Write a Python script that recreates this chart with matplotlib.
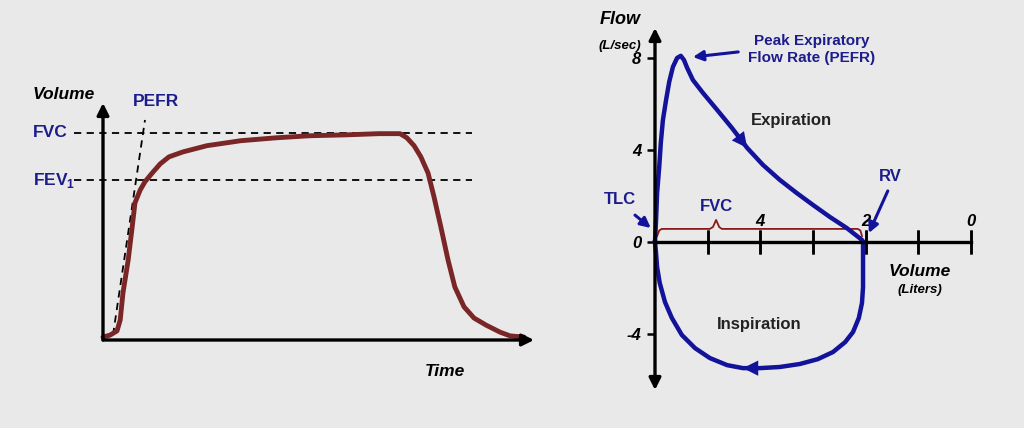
import matplotlib.pyplot as plt

plt.rcParams['font.family'] = ['Liberation Sans', 'DejaVu Sans']
plt.rcParams['mathtext.fontset'] = 'custom'
plt.rcParams['mathtext.rm'] = 'Liberation Sans'
plt.rcParams['mathtext.bf'] = 'Liberation Sans:bold'

BG = "#e9e9e9"
RED = "#7a2626"
BLUE = "#12129a"
TXT = "#1c1c8c"

# left panel: volume-time curve (time in s, volume in L)
spiro_time = [0, 0.18, 0.35, 0.43, 0.5, 0.63, 0.73, 0.8, 0.93, 1.05, 1.23, 1.43, 1.65, 2.0,
              2.6, 3.45, 4.33, 5.18, 6.05, 6.9, 7.43, 7.6, 7.78, 7.95, 8.13, 8.28, 8.45,
              8.63, 8.8, 9.03, 9.28, 9.58, 9.93, 10.18, 10.53]
spiro_vol = [0.07, 0.12, 0.22, 0.48, 1.14, 1.93, 2.73, 3.31, 3.62, 3.82, 4.03, 4.25, 4.42,
             4.54, 4.69, 4.81, 4.88, 4.93, 4.95, 4.98, 4.98, 4.88, 4.69, 4.42, 4.03, 3.45,
             2.73, 1.93, 1.28, 0.8, 0.53, 0.36, 0.19, 0.1, 0.07]
FVC = 5.0
FEV1 = 3.86
pefr_line_t = [0.25, 1.05]
pefr_line_v = [0.12, 5.31]

# right panel: flow-volume loop (volume in L, flow in L/s)
exp_vol = [6.0, 5.98, 5.96, 5.92, 5.89, 5.85, 5.79, 5.73, 5.66, 5.58, 5.51, 5.45, 5.39,
           5.28, 5.09, 4.82, 4.54, 4.25, 3.95, 3.63, 3.31, 3.0, 2.68, 2.36, 2.07, 2.05]
exp_flow = [0.0, 0.96, 2.13, 3.26, 4.3, 5.3, 6.17, 6.96, 7.61, 8.0, 8.09, 7.91, 7.57,
            7.04, 6.48, 5.74, 4.96, 4.09, 3.35, 2.7, 2.13, 1.61, 1.09, 0.61, 0.09, 0.0]
insp_vol = [2.05, 2.05, 2.05, 2.05, 2.07, 2.13, 2.24, 2.39, 2.62, 2.91, 3.25, 3.63, 4.01,
            4.33, 4.63, 4.96, 5.24, 5.49, 5.68, 5.81, 5.91, 5.96, 5.98, 6.0]
insp_flow = [0.0, -0.22, -1.09, -1.96, -2.65, -3.3, -3.91, -4.35, -4.78, -5.09, -5.3,
             -5.43, -5.48, -5.48, -5.35, -5.04, -4.61, -4.04, -3.3, -2.61, -1.78, -1.09,
             -0.48, 0.0]
vol_ticks = [5, 4, 3, 2, 1, 0]
vol_labels = ["", "4", "", "2", "", "0"]
flow_ticks = [8, 4, 0, -4]
flow_labels = ["8", "4", "0", "-4"]
brace_vol = [5.96, 5.92, 5.87, 4.96, 4.9, 4.84, 4.78, 4.73, 2.15, 2.1, 2.07]
brace_flow = [0.26, 0.5, 0.57, 0.57, 0.65, 0.96, 0.65, 0.57, 0.57, 0.5, 0.26]

W, H = 1024, 428
fig = plt.figure(figsize=(W / 100, H / 100), dpi=100, facecolor=BG)

# ---------------- left: spirogram ----------------
ax1 = fig.add_axes([103 / W, (H - 340) / H, (534 - 103) / W, (340 - 103) / H])
ax1.set_xlim(0, 10.78)
ax1.set_ylim(0, 5.72)
ax1.axis("off")

arrow_kw = dict(arrowstyle="-|>,head_length=0.7,head_width=0.35", color="black", lw=2.4,
                shrinkA=0, shrinkB=0)
ax1.annotate("", xy=(0, 1), xytext=(0, 0), xycoords="axes fraction", arrowprops=arrow_kw)
ax1.annotate("", xy=(1, 0), xytext=(0, 0), xycoords="axes fraction", arrowprops=arrow_kw)

for level in (FVC, FEV1):
    ax1.plot([-0.73, 9.23], [level, level], color="black", lw=1.3, ls=(0, (4, 3)), clip_on=False)
ax1.plot(pefr_line_t, pefr_line_v, color="black", lw=1.3, ls=(0, (4, 3)), clip_on=False)
ax1.plot(spiro_time, spiro_vol, color=RED, lw=3.5, solid_capstyle="round",
         solid_joinstyle="round", clip_on=False)

ax1.text(-1.75, FVC, "FVC", color=TXT, fontsize=12.5, fontweight="bold", va="center", ha="left")
ax1.text(-1.75, FEV1, "FEV$_\\mathbf{1}$", color=TXT, fontsize=12.5, fontweight="bold",
         va="center", ha="left")
ax1.text(-1.75, 5.93, "Volume", color="black", fontsize=12.5, fontweight="bold", style="italic",
         va="center", ha="left")
ax1.text(0.75, 5.75, "PEFR", color=TXT, fontsize=12.5, fontweight="bold", va="center", ha="left")
ax1.text(8.05, -0.77, "Time", color="black", fontsize=12.5, fontweight="bold", style="italic",
         va="center", ha="left")

# ---------------- right: flow-volume loop ----------------
ax2 = fig.add_axes([655 / W, (H - 390) / H, (971 - 655) / W, (390 - 28) / H])
ax2.set_xlim(6, 0)
ax2.set_ylim(-6.43, 9.3)
ax2.set_facecolor("none")
for s in ("left", "right"):
    ax2.spines[s].set_visible(False)
ax2.spines["bottom"].set_position(("data", 0))
ax2.spines["top"].set_position(("data", 0))
ax2.spines["bottom"].set_linewidth(2.4)
ax2.spines["top"].set_visible(False)
ax2.set_xticks(vol_ticks)
ax2.set_xticklabels(vol_labels)
ax2.tick_params(axis="x", direction="inout", length=17, width=1.8, top=True, bottom=True,
                labeltop=True, labelbottom=False, pad=1)
ax2.set_yticks(flow_ticks)
ax2.set_yticklabels(flow_labels)
ax2.tick_params(axis="y", direction="out", length=6, width=1.8, pad=4)
for lab in ax2.get_xticklabels() + ax2.get_yticklabels():
    lab.set_fontweight("bold")
    lab.set_fontstyle("italic")
    lab.set_fontsize(12)

ax2.annotate("", xy=(0, 1), xytext=(0, 0), xycoords="axes fraction",
             arrowprops=dict(arrowstyle="<|-|>,head_length=0.7,head_width=0.35", color="black",
                             lw=2.4, shrinkA=0, shrinkB=0))

ax2.plot(brace_vol, brace_flow, color="#8b1a1a", lw=1.3, clip_on=False)
ax2.plot(exp_vol, exp_flow, color=BLUE, lw=3.2, solid_joinstyle="round", clip_on=False)
ax2.plot(insp_vol, insp_flow, color=BLUE, lw=3.2, solid_joinstyle="round", clip_on=False)

head = dict(arrowstyle="-|>,head_length=1.1,head_width=0.55", color=BLUE, lw=0,
            shrinkA=0, shrinkB=0)
ax2.annotate("", xy=(exp_vol[17], exp_flow[17]), xytext=(exp_vol[16], exp_flow[16]),
             arrowprops=head)
ax2.annotate("", xy=(insp_vol[13], insp_flow[13]), xytext=(insp_vol[12], insp_flow[12]),
             arrowprops=head)

call = dict(arrowstyle="-|>,head_length=0.6,head_width=0.3", color=BLUE, lw=2.2,
            shrinkA=0, shrinkB=0)
ax2.annotate("", xy=(5.28, 8.04), xytext=(4.42, 8.26), arrowprops=call, annotation_clip=False)
ax2.annotate("", xy=(6.08, 0.61), xytext=(6.38, 1.17), arrowprops=call, annotation_clip=False)
ax2.annotate("", xy=(1.94, 0.39), xytext=(1.58, 2.22), arrowprops=call, annotation_clip=False)

ax2.text(3.02, 8.35, "Peak Expiratory\nFlow Rate (PEFR)", color=TXT, fontsize=11,
         fontweight="bold", ha="center", va="center", linespacing=1.25)
ax2.text(6.66, 1.83, "TLC", color=TXT, fontsize=12, fontweight="bold", ha="center", va="center")
ax2.text(1.54, 2.83, "RV", color=TXT, fontsize=12, fontweight="bold", ha="center", va="center")
ax2.text(4.84, 1.55, "FVC", color=TXT, fontsize=12, fontweight="bold", ha="center", va="center")
ax2.text(3.4, 5.3, "Expiration", color="#222222", fontsize=12, fontweight="bold",
         ha="center", va="center")
ax2.text(4.03, -3.6, "Inspiration", color="#222222", fontsize=12, fontweight="bold",
         ha="center", va="center")
ax2.text(0.97, -1.3, "Volume", fontsize=12.5, fontweight="bold", style="italic",
         ha="center", va="center")
ax2.text(0.97, -2.09, "(Liters)", fontsize=9.5, fontweight="bold", style="italic",
         ha="center", va="center")
ax2.text(6.27, 9.65, "Flow", fontsize=13, fontweight="bold", style="italic",
         ha="right", va="center")
ax2.text(6.27, 8.5, "(L/sec)", fontsize=9.5, fontweight="bold", style="italic",
         ha="right", va="center")

fig.savefig("out.png", dpi=100, facecolor=BG)
